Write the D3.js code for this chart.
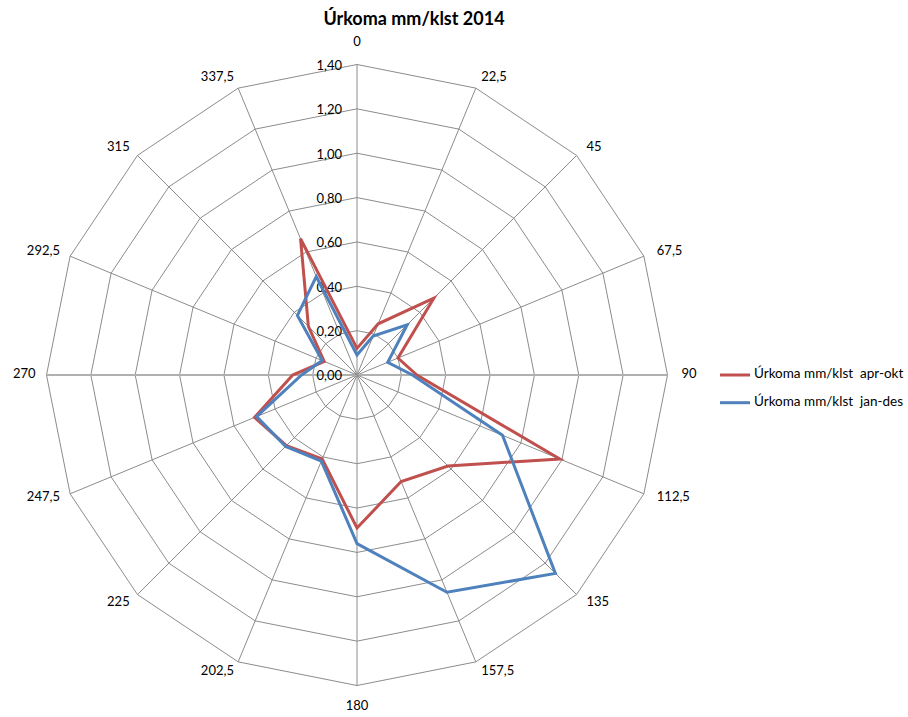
<!DOCTYPE html>
<html>
<head>
<meta charset="utf-8">
<script src="https://cdn.jsdelivr.net/npm/d3@7"></script>
<style>
  body { margin: 0; background: #fff; }
  svg { display: block; font-family: Lato, "Open Sans", "Liberation Sans", sans-serif; }
</style>
</head>
<body>
<svg id="chart" width="908" height="717"></svg>
<script>
const title = "Úrkoma mm/klst 2014";
const categories = ["0","22,5","45","67,5","90","112,5","135","157,5","180","202,5","225","247,5","270","292,5","315","337,5"];
const tickValues = [0, 0.2, 0.4, 0.6, 0.8, 1.0, 1.2, 1.4];
const seriesNames = ["Úrkoma mm/klst  apr-okt", "Úrkoma mm/klst  jan-des"];
const aprOkt = [0.12, 0.25, 0.49, 0.20, 0.27, 0.99, 0.58, 0.52, 0.69, 0.41, 0.45, 0.50, 0.29, 0.16, 0.31, 0.665];
const janDes = [0.09, 0.19, 0.32, 0.15, 0.25, 0.71, 1.265, 1.06, 0.76, 0.42, 0.455, 0.49, 0.25, 0.17, 0.38, 0.48];
const colors = ["#C0504D", "#4F81BD"];

const svg = d3.select("#chart");
const cx = 357, cy = 375;
const r = d3.scaleLinear().domain([0, 1.4]).range([0, 310.5]);
const angle = d3.scaleLinear().domain([0, categories.length]).range([0, 2 * Math.PI]);
const locale = d3.formatLocale({decimal: ",", thousands: ".", grouping: [3], currency: ["", ""]});
const fmt = locale.format(".2f");

const g = svg.append("g").attr("transform", `translate(${cx},${cy})`);
const pt = (i, v) => [Math.sin(angle(i)) * r(v), -Math.cos(angle(i)) * r(v)];

// rings
tickValues.slice(1).forEach(t => {
  const pts = categories.map((c, i) => pt(i, t));
  g.append("path")
    .attr("d", "M" + pts.map(p => p.join(",")).join("L") + "Z")
    .attr("fill", "none").attr("stroke", "#8c8c8c").attr("stroke-width", 1);
});
// spokes
categories.forEach((c, i) => {
  const p = pt(i, 1.4);
  const horiz = (i === 4 || i === 12);
  g.append("line").attr("x1", 0).attr("y1", 0).attr("x2", p[0]).attr("y2", p[1])
    .attr("stroke", horiz ? "#b0b0b0" : "#8c8c8c")
    .attr("stroke-width", horiz ? 2 : 1);
});

// tick labels
tickValues.forEach(t => {
  g.append("text").attr("x", -15).attr("y", -r(t) + 2)
    .attr("text-anchor", "end").attr("dominant-baseline", "middle")
    .attr("font-size", 13).attr("fill", "#000").text(fmt(t));
});

// category labels
categories.forEach((c, i) => {
  const a = angle(i);
  const end = pt(i, 1.4);
  const s = Math.sin(a);
  let x, y, anchor;
  if (Math.abs(s) < 1e-6) {
    x = end[0]; y = end[1] - Math.cos(a) * 21.5; anchor = "middle";
  } else if (s > 0) {
    x = end[0] + s * 14; y = end[1] - Math.cos(a) * 11; anchor = "start";
  } else {
    x = end[0] + s * 11; y = end[1] - Math.cos(a) * 11; anchor = "end";
  }
  g.append("text").attr("x", x).attr("y", y)
    .attr("text-anchor", anchor).attr("dominant-baseline", "middle")
    .attr("font-size", 13).attr("fill", "#000").text(c);
});

// series
const line = d3.lineRadial()
  .angle((d, i) => angle(i))
  .radius(d => r(d))
  .curve(d3.curveLinearClosed);
[aprOkt, janDes].forEach((s, k) => {
  g.append("path").attr("d", line(s)).attr("fill", "none")
    .attr("stroke", colors[k]).attr("stroke-width", 3).attr("stroke-linejoin", "miter");
});

// title
svg.append("text").attr("x", 414).attr("y", 25).attr("text-anchor", "middle")
  .attr("font-size", 18).attr("font-weight", "bold").text(title);

// legend
seriesNames.forEach((n, k) => {
  const y = 375 + k * 27.7;
  svg.append("line").attr("x1", 720).attr("x2", 750).attr("y1", y).attr("y2", y)
    .attr("stroke", colors[k]).attr("stroke-width", 3);
  svg.append("text").attr("x", 754).attr("y", y).attr("dominant-baseline", "middle")
    .attr("font-size", 13.5).style("white-space", "pre").text(n);
});
</script>
</body>
</html>
